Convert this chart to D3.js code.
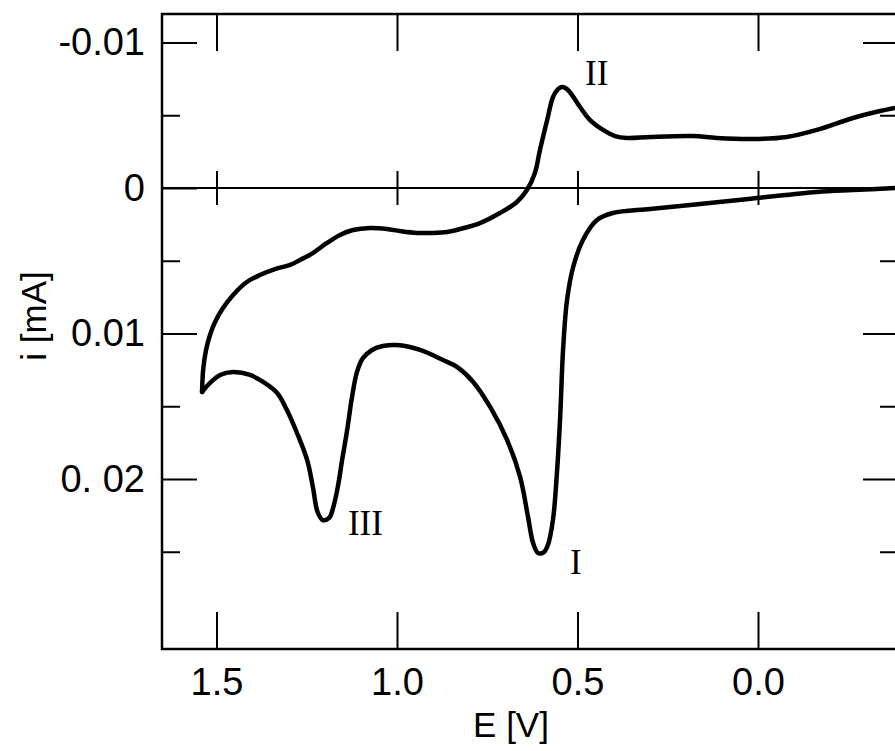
<!DOCTYPE html>
<html>
<head>
<meta charset="utf-8">
<script src="https://cdn.jsdelivr.net/npm/d3@7"></script>
<style>
  body { margin: 0; background: #fff; }
  text { fill: #000; }
</style>
</head>
<body>
<div id="chart"></div>
<script>
// potential E [V], current i [mA] (positive plotted downwards)
const upperE = [1.540, 1.537, 1.529, 1.518, 1.504, 1.482, 1.454, 1.416, 1.380, 1.338, 1.296, 1.269, 1.233, 1.194, 1.158, 1.122, 1.075, 1.028, 0.992, 0.945, 0.903, 0.861, 0.825, 0.770, 0.715, 0.668, 0.640, 0.618, 0.604, 0.584, 0.568, 0.554, 0.543, 0.529, 0.515, 0.493, 0.465, 0.429, 0.396, 0.363, 0.299, 0.180, 0.114, 0.014, -0.080, -0.163, -0.263, -0.338, -0.385];
const upperI = [0.01402, 0.01251, 0.01113, 0.01010, 0.00921, 0.00825, 0.00735, 0.00646, 0.00598, 0.00557, 0.00529, 0.00495, 0.00447, 0.00378, 0.00323, 0.00289, 0.00275, 0.00282, 0.00296, 0.00309, 0.00309, 0.00302, 0.00282, 0.00241, 0.00172, 0.00096, 0.00014, -0.00103, -0.00261, -0.00467, -0.00625, -0.00680, -0.00694, -0.00680, -0.00639, -0.00557, -0.00467, -0.00399, -0.00357, -0.00344, -0.00351, -0.00357, -0.00344, -0.00337, -0.00351, -0.00399, -0.00481, -0.00529, -0.00552];

const lowerE = [1.540, 1.518, 1.490, 1.454, 1.407, 1.371, 1.332, 1.305, 1.277, 1.249, 1.233, 1.220, 1.206, 1.188, 1.175, 1.163, 1.152, 1.138, 1.125, 1.111, 1.094, 1.069, 1.039, 1.000, 0.936, 0.873, 0.834, 0.789, 0.742, 0.695, 0.659, 0.637, 0.623, 0.609, 0.593, 0.582, 0.568, 0.557, 0.548, 0.540, 0.529, 0.512, 0.485, 0.446, 0.402, 0.299, 0.161, 0.003, -0.163, -0.263, -0.385];
const lowerI = [0.01402, 0.01340, 0.01285, 0.01265, 0.01285, 0.01333, 0.01409, 0.01526, 0.01684, 0.01869, 0.02055, 0.02227, 0.02282, 0.02268, 0.02179, 0.02041, 0.01869, 0.01663, 0.01443, 0.01265, 0.01168, 0.01113, 0.01086, 0.01079, 0.01113, 0.01182, 0.01230, 0.01333, 0.01505, 0.01732, 0.01986, 0.02261, 0.02440, 0.02509, 0.02502, 0.02454, 0.02282, 0.01959, 0.01574, 0.01113, 0.00770, 0.00543, 0.00357, 0.00220, 0.00172, 0.00144, 0.00110, 0.00069, 0.00027, 0.00014, 0.00000];

const xTicks = [1.5, 1.0, 0.5, 0.0];
const yMajor = [-0.01, 0, 0.01, 0.02];
const yMajorLabels = ["-0.01", "0", "0.01", "0. 02"];
const yMinor = [-0.005, 0.005, 0.015, 0.025];

// peak labels
const peakNames = ["II", "III", "I"];
const peakE = [0.479, 1.136, 0.521];
const peakI = [-0.00708, 0.02385, 0.02653];

const width = 895, height = 751;
const plotLeft = 162, plotRight = 898, plotTop = 14, plotBottom = 649;

const svg = d3.select("#chart").append("svg")
  .attr("width", width)
  .attr("height", height);

const x = d3.scaleLinear().domain([1.5, 0]).range([216.5, 758]);
const y = d3.scaleLinear().domain([-0.01, 0.02]).range([42.5, 479]);

const tickFont = "'Liberation Sans', Arial, sans-serif";

svg.append("clipPath").attr("id", "plot")
  .append("rect")
  .attr("x", plotLeft).attr("y", plotTop)
  .attr("width", plotRight - plotLeft).attr("height", plotBottom - plotTop);

// zero line
svg.append("line")
  .attr("x1", plotLeft).attr("x2", plotRight)
  .attr("y1", y(0)).attr("y2", y(0))
  .attr("stroke", "#000").attr("stroke-width", 2);

function styleAxis(g) {
  g.select(".domain").remove();
  g.selectAll(".tick line").attr("stroke", "#000").attr("stroke-width", 2);
}

// bottom
svg.append("g")
  .attr("transform", `translate(0,${plotBottom})`)
  .call(d3.axisBottom(x).tickValues(xTicks).tickSize(-37).tickPadding(19).tickFormat(d3.format(".1f")))
  .call(styleAxis)
  .call(g => g.selectAll("text").attr("font-family", tickFont).attr("font-size", 38));

// top
svg.append("g")
  .attr("transform", `translate(0,${plotTop})`)
  .call(d3.axisTop(x).tickValues(xTicks).tickSize(-37).tickFormat(""))
  .call(styleAxis);

// ticks across the zero line
[d3.axisTop, d3.axisBottom].forEach(ax => {
  svg.append("g")
    .attr("transform", `translate(0,${y(0)})`)
    .call(ax(x).tickValues(xTicks).tickSize(17).tickFormat(""))
    .call(styleAxis);
});

// left
svg.append("g")
  .attr("transform", `translate(${plotLeft},0)`)
  .call(d3.axisLeft(y).tickValues(yMajor).tickSize(-35).tickPadding(17)
    .tickFormat((d, i) => yMajorLabels[i]))
  .call(styleAxis)
  .call(g => g.selectAll("text").attr("font-family", tickFont).attr("font-size", 38));

svg.append("g")
  .attr("transform", `translate(${plotLeft},0)`)
  .call(d3.axisLeft(y).tickValues(yMinor).tickSize(-18).tickFormat(""))
  .call(styleAxis);

// right
svg.append("g")
  .attr("transform", `translate(${plotRight},0)`)
  .call(d3.axisRight(y).tickValues(yMajor).tickSize(-35).tickFormat(""))
  .call(styleAxis);

svg.append("g")
  .attr("transform", `translate(${plotRight},0)`)
  .call(d3.axisRight(y).tickValues(yMinor).tickSize(-18).tickFormat(""))
  .call(styleAxis);

// frame
svg.append("rect")
  .attr("x", plotLeft).attr("y", plotTop)
  .attr("width", plotRight - plotLeft).attr("height", plotBottom - plotTop)
  .attr("fill", "none").attr("stroke", "#000").attr("stroke-width", 2.5);

// curves
const line = d3.line()
  .x(d => x(d[0]))
  .y(d => y(d[1]))
  .curve(d3.curveCatmullRom.alpha(0.5));

const branches = [
  upperE.map((e, i) => [e, upperI[i]]),
  lowerE.map((e, i) => [e, lowerI[i]])
];

svg.append("g").attr("clip-path", "url(#plot)")
  .selectAll("path")
  .data(branches)
  .enter()
  .append("path")
  .attr("fill", "none")
  .attr("stroke", "#000")
  .attr("stroke-width", 4.5)
  .attr("stroke-linejoin", "round")
  .attr("stroke-linecap", "round")
  .attr("d", line);

// peak labels
svg.selectAll(".peak")
  .data(peakNames)
  .enter()
  .append("text")
  .attr("class", "peak")
  .attr("x", (d, i) => x(peakE[i]))
  .attr("y", (d, i) => y(peakI[i]))
  .attr("font-family", "'Liberation Serif', 'Times New Roman', serif")
  .attr("font-size", 35)
  .text(d => d);

// axis titles
svg.append("text")
  .attr("x", 511).attr("y", 737)
  .attr("text-anchor", "middle")
  .attr("font-family", tickFont)
  .attr("font-size", 35)
  .text("E [V]");

svg.append("text")
  .attr("transform", "translate(46,316) rotate(-90)")
  .attr("text-anchor", "middle")
  .attr("font-family", tickFont)
  .attr("font-size", 35)
  .text("i [mA]");
</script>
</body>
</html>
